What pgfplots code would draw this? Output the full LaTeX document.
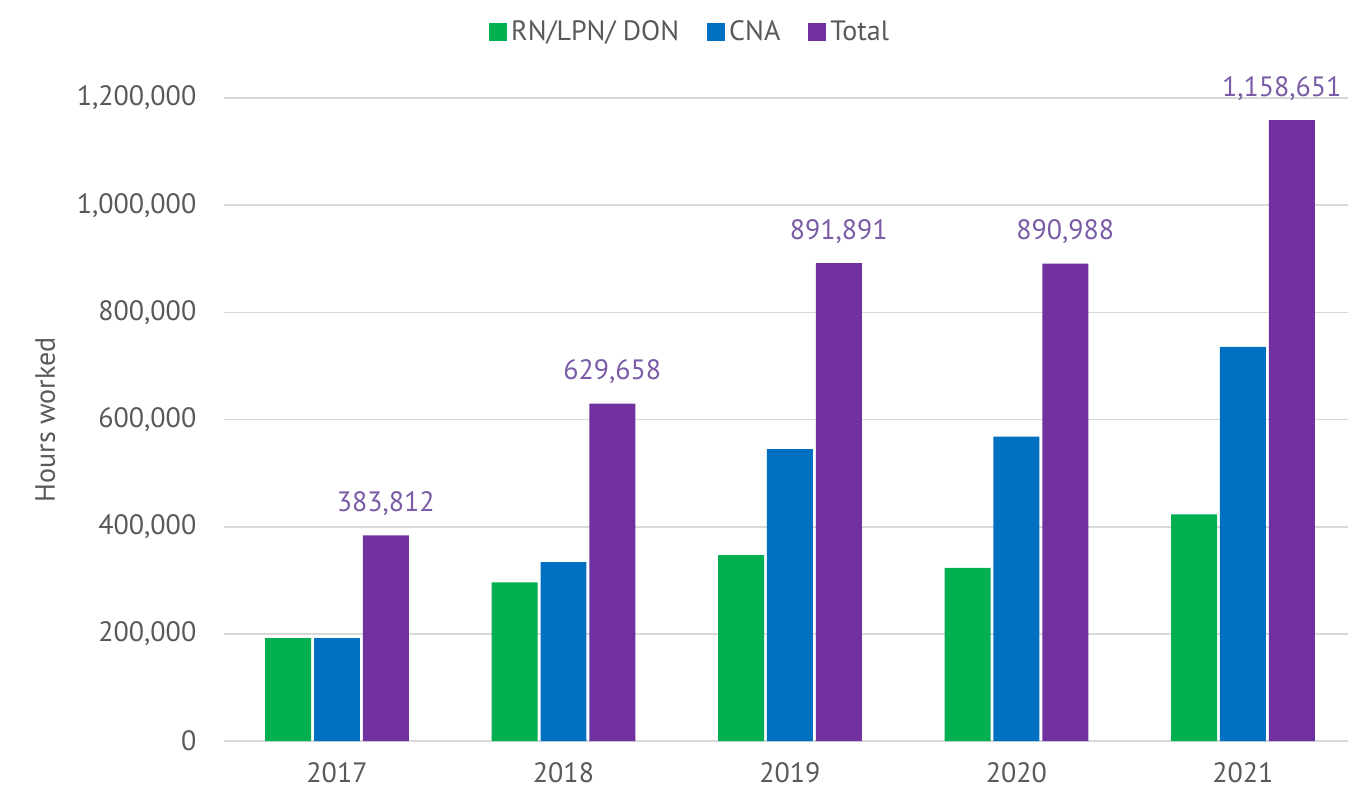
\documentclass[border=0pt]{standalone}
\usepackage{pgfplots}
\pgfplotsset{compat=1.18}
\usepackage{fontspec}
\setmainfont{PT Sans}
\definecolor{cgreen}{HTML}{00B050}
\definecolor{cblue}{HTML}{0070C0}
\definecolor{cpurple}{HTML}{7030A0}
\definecolor{clabel}{HTML}{7A5BA6}
\definecolor{ctext}{HTML}{595959}
\definecolor{cgrid}{HTML}{D9D9D9}
\begin{document}
\fontsize{14}{17}\selectfont
\begin{tikzpicture}
\begin{axis}[
  scale only axis,
  width=562pt, height=348.25pt,
  xmin=-0.499, xmax=4.464,
  ymin=0, ymax=1300000,
  xtick={0,1,2,3,4},
  xticklabels={2017,2018,2019,2020,2021},
  ytick={0,200000,400000,600000,800000,1000000,1200000},
  /pgf/number format/assume math mode=true,
  yticklabel={\pgfmathprintnumber[fixed,precision=0,1000 sep={,}]{\tick}},
  scaled y ticks=false,
  axis line style={draw=none},
  major tick length=0pt,
  ymajorgrids,
  grid style={cgrid, line width=0.8pt},
  tick label style={text=ctext, font=\fontsize{14}{17}\selectfont},
  xticklabel style={yshift=-6pt},
  yticklabel style={xshift=-9pt},
  ylabel={Hours worked},
  ylabel style={at={(axis description cs:-0.159,0.461)}, anchor=center, text=ctext, font=\fontsize{14}{17}\selectfont},
  legend style={at={(0.4155,1.0165)}, anchor=center, draw=none, fill=none, legend columns=-1, text=ctext, font=\fontsize{14}{17}\selectfont, /tikz/every even column/.append style={column sep=12pt}},
  legend image code/.code={\fill[#1] (0pt,-4pt) rectangle (9pt,5pt);},
  legend cell align=left,
]
\addplot[ybar, bar width=0.203, bar shift=-0.216, fill=cgreen, draw=none] coordinates {(0,192000) (1,296000) (2,347000) (3,323000) (4,423000)};
\addlegendentry{RN/LPN/ DON}
\addplot[ybar, bar width=0.203, bar shift=0, fill=cblue, draw=none] coordinates {(0,191812) (1,333658) (2,544891) (3,567988) (4,735651)};
\addlegendentry{CNA}
\addplot[ybar, bar width=0.203, bar shift=0.216, fill=cpurple, draw=none,
  visualization depends on={\coordindex \as \idx},
  nodes near coords={\pgfmathprintnumber[fixed,precision=0,1000 sep={,}]{\pgfplotspointmeta}},
  every node near coord/.append style={text=clabel, anchor=south, xshift={24.4pt-(\idx==4)*5pt}, yshift=5pt, font=\fontsize{14}{17}\selectfont}] coordinates {(0,383812) (1,629658) (2,891891) (3,890988) (4,1158651)};
\addlegendentry{Total}
\end{axis}
\pgfresetboundingbox
\path (-112pt,-24pt) rectangle (562pt,370.5pt);
\end{tikzpicture}
\end{document}
